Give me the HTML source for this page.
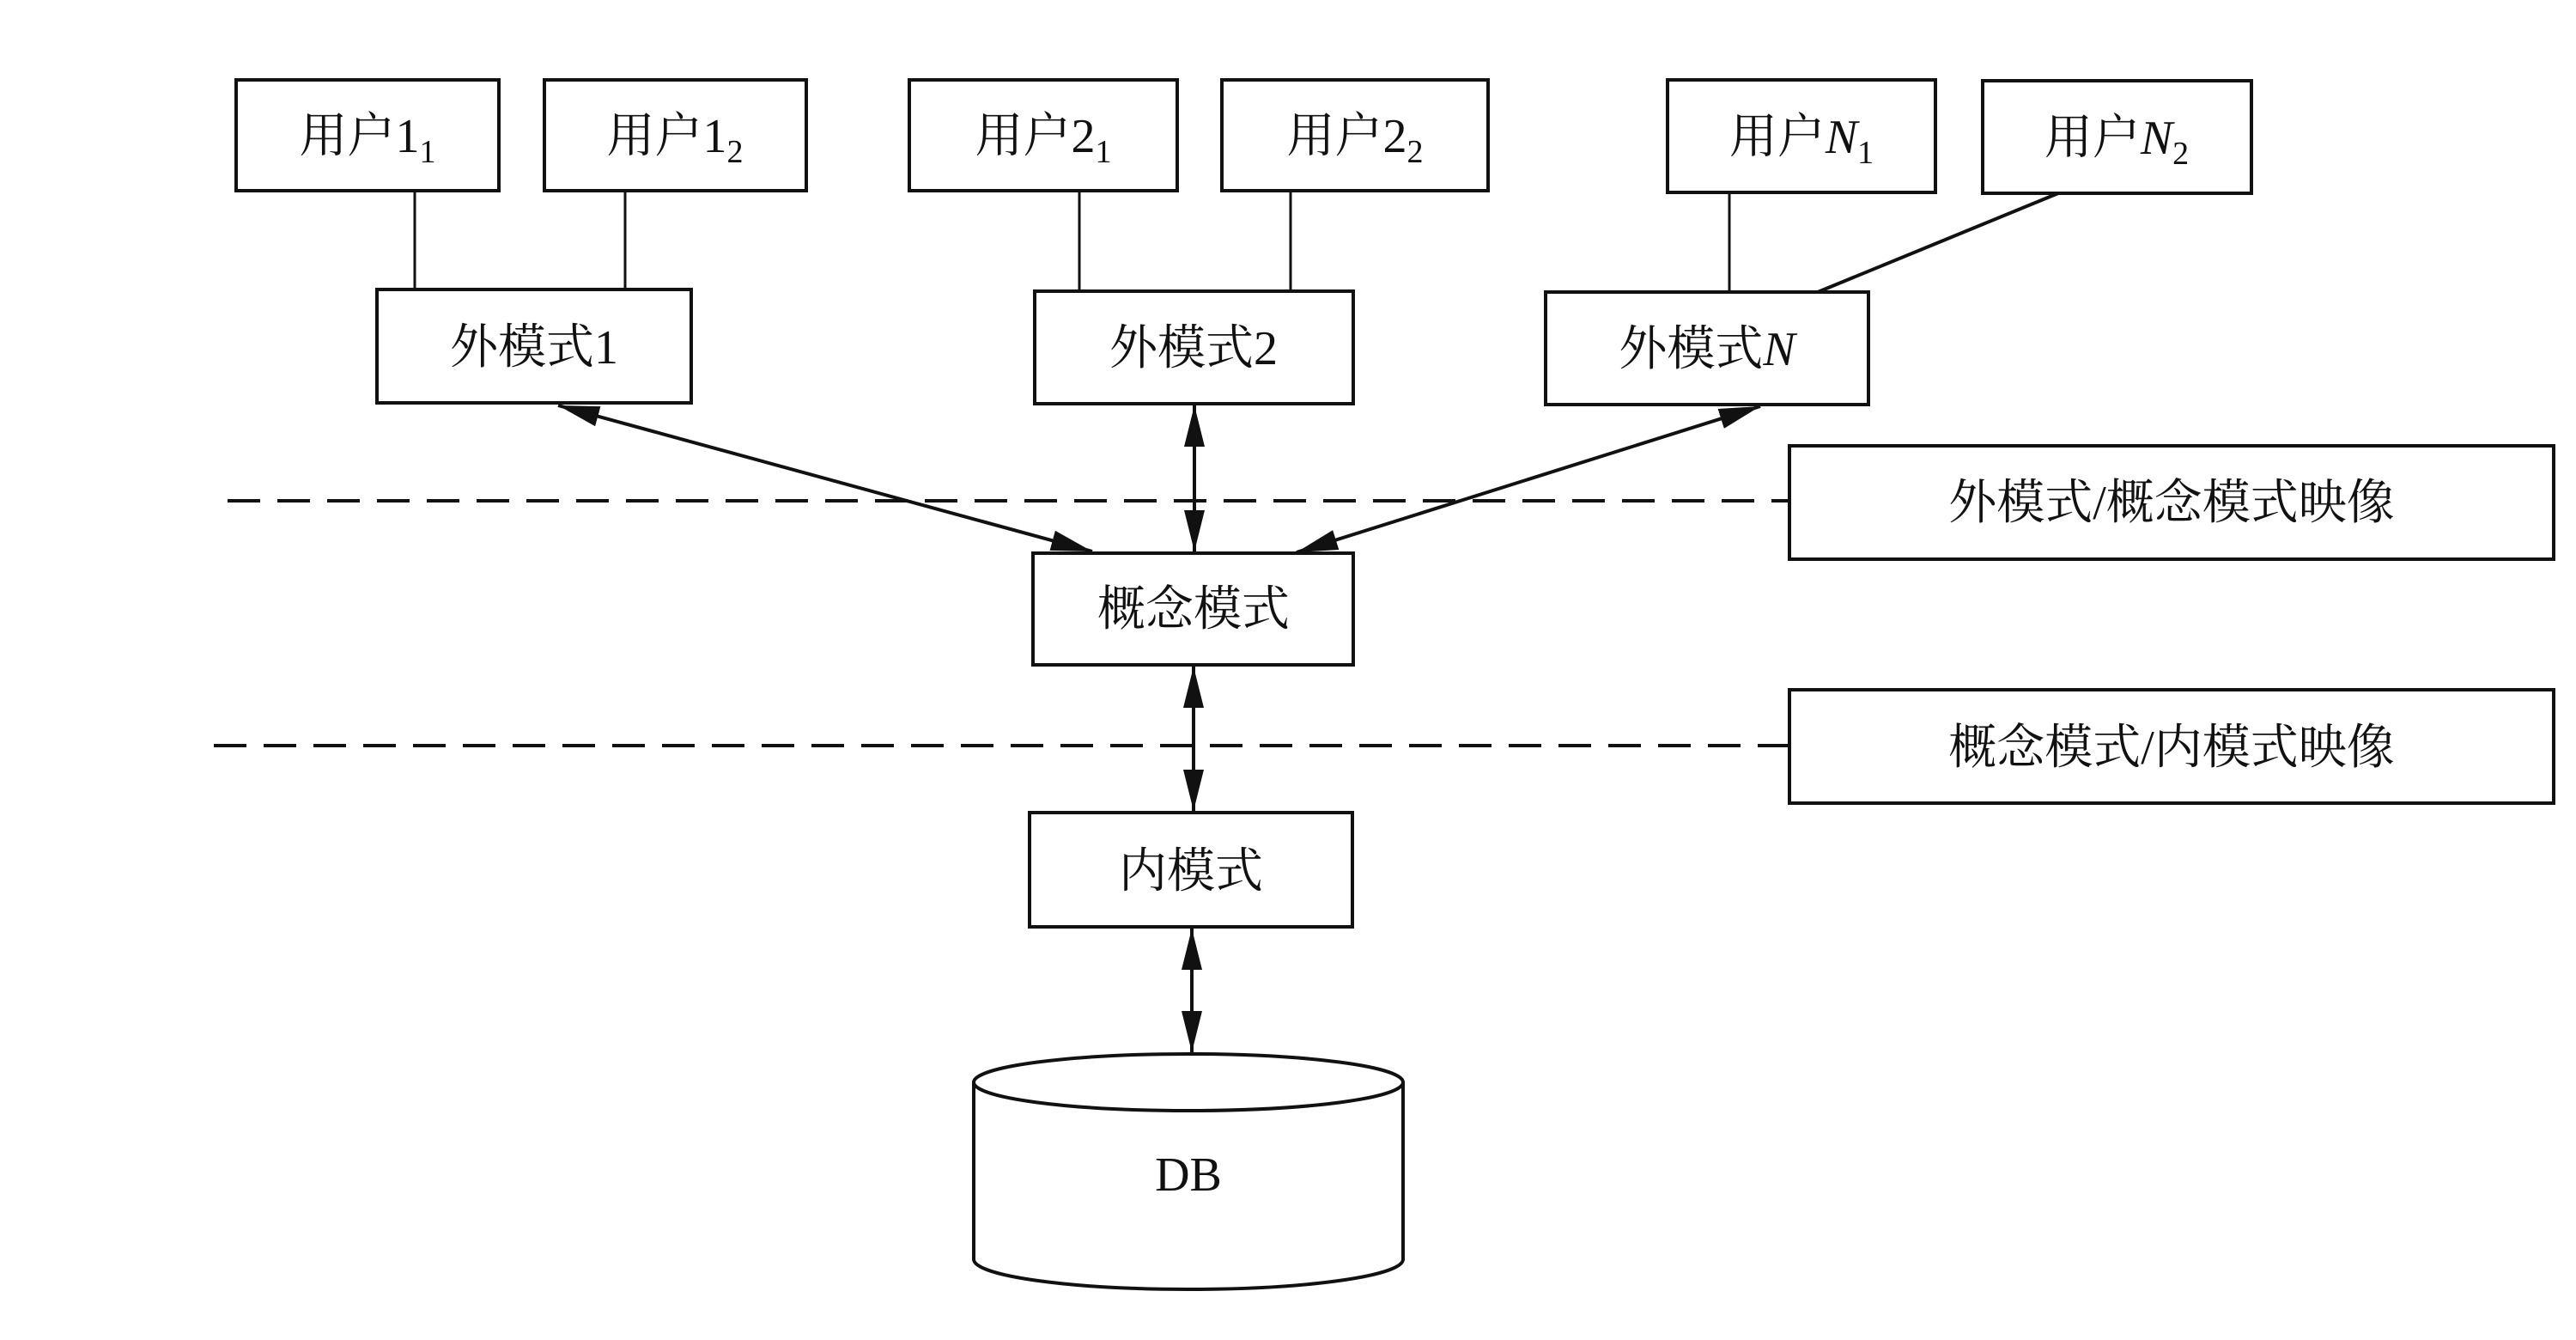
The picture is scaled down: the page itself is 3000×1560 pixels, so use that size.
<!DOCTYPE html>
<html><head><meta charset="utf-8"><style>
html,body{margin:0;padding:0;background:#fff;}
svg{display:block;}
text{font-family:"Liberation Serif","Noto Serif CJK SC",serif;fill:#111;}
</style></head><body>
<svg width="3000" height="1560" viewBox="0 0 3000 1560" xmlns="http://www.w3.org/2000/svg">
<defs>
<marker id="a" viewBox="0 0 20 10" refX="20" refY="5" markerWidth="12" markerHeight="6" markerUnits="strokeWidth" orient="auto-start-reverse">
<path d="M0,0 L20,5 L0,10 z" fill="#111"/>
</marker>
</defs>
<g fill="none" stroke="#111" stroke-width="4">
<rect x="275" y="93" width="306" height="129"/>
<rect x="634" y="93" width="305" height="129"/>
<rect x="1059" y="93" width="312" height="129"/>
<rect x="1423" y="93" width="310" height="129"/>
<rect x="1942" y="93" width="312" height="131"/>
<rect x="2309" y="94" width="313" height="131"/>
<rect x="439" y="337" width="366" height="132"/>
<rect x="1205" y="339" width="371" height="131"/>
<rect x="1800" y="340" width="376" height="131"/>
<rect x="1203" y="644" width="373" height="130"/>
<rect x="1199" y="946" width="376" height="133"/>
<rect x="2084" y="519" width="890" height="132"/>
<rect x="2084" y="803" width="890" height="132"/>
</g>
<g stroke="#111" stroke-width="3">
<line x1="483" y1="222" x2="483" y2="337"/>
<line x1="728" y1="222" x2="728" y2="337"/>
<line x1="1257" y1="222" x2="1257" y2="339"/>
<line x1="1503" y1="222" x2="1503" y2="339"/>
<line x1="2014" y1="224" x2="2014" y2="340"/>
<line x1="2397" y1="225" x2="2117" y2="340" stroke-width="4"/>
</g>
<g stroke="#111" stroke-width="4" stroke-dasharray="38,20">
<line x1="265" y1="583" x2="2084" y2="583"/>
<line x1="249" y1="868" x2="2084" y2="868"/>
</g>
<g stroke="#111" stroke-width="4" marker-start="url(#a)" marker-end="url(#a)">
<line x1="650" y1="472" x2="1272" y2="642"/>
<line x1="1391" y1="472" x2="1391" y2="642"/>
<line x1="2050" y1="473" x2="1510" y2="643"/>
<line x1="1390" y1="776" x2="1390" y2="944"/>
<line x1="1388" y1="1081" x2="1388" y2="1225"/>
</g>
<g fill="#fff" stroke="#111" stroke-width="4">
<path d="M1134,1260 L1134,1466 A250,35 0 0 0 1634,1466 L1634,1260"/>
<ellipse cx="1384" cy="1260" rx="250" ry="33"/>
</g>
<g font-size="56" text-anchor="middle">
<text x="428" y="177">用户1<tspan font-size="38" dy="12">1</tspan></text>
<text x="786" y="177">用户1<tspan font-size="38" dy="12">2</tspan></text>
<text x="1215" y="177">用户2<tspan font-size="38" dy="12">1</tspan></text>
<text x="1578" y="177">用户2<tspan font-size="38" dy="12">2</tspan></text>
<text x="2098" y="178">用户<tspan font-style="italic">N</tspan><tspan font-size="38" dy="12">1</tspan></text>
<text x="2465" y="179">用户<tspan font-style="italic">N</tspan><tspan font-size="38" dy="12">2</tspan></text>
<text x="622" y="423">外模式1</text>
<text x="1390" y="424">外模式2</text>
<text x="1988" y="425">外模式<tspan font-style="italic">N</tspan></text>
<text x="1390" y="728">概念模式</text>
<text x="1387" y="1033">内模式</text>
<text x="2529" y="604">外模式/概念模式映像</text>
<text x="2529" y="889">概念模式/内模式映像</text>
<text x="1384" y="1386">DB</text>
</g>
</svg>
</body></html>
